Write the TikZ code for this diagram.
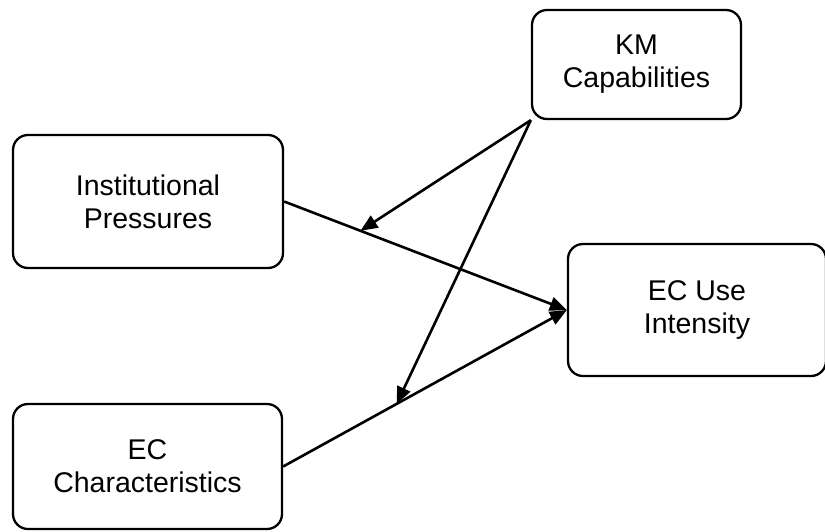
\documentclass[tikz,border=0pt]{standalone}
\usepackage{fontspec}
\setmainfont{Liberation Sans}
\usetikzlibrary{arrows.meta,calc}
\begin{document}
\begin{tikzpicture}[x=1pt,y=-1pt,
  construct/.style={draw, line width=2.3pt, rounded corners=15pt, align=center,
    inner sep=0pt, font=\fontsize{28.5}{33}\selectfont},
  link/.style={line width=2.6pt, -{Triangle[length=17pt,width=14pt]}}]
  \useasboundingbox (0,0) rectangle (825,531);
  \node[construct, minimum width=209pt, minimum height=109pt] (km) at (636.5,64.5) {KM\\Capabilities};
  \node[construct, minimum width=270pt, minimum height=133pt] (ip) at (148,201.5) {Institutional\\Pressures};
  \node[construct, minimum width=258pt, minimum height=132pt] (use) at (697,310) {EC Use\\Intensity};
  \node[construct, minimum width=269pt, minimum height=125pt] (ecc) at (147.5,466.5) {EC\\Characteristics};
  % moderation points on the two main paths
  \coordinate (m1) at ($(ip.east)!0.27!(use.west)$);
  \coordinate (m2) at ($(ecc.east)!0.40!(use.west)$);
  \draw[link] (ip.east) -- (use.west);
  \draw[link] (ecc.east) -- (use.west);
  \draw[link] (km.south west) -- (m1);
  \draw[link] (km.south west) -- (m2);
\end{tikzpicture}
\end{document}
